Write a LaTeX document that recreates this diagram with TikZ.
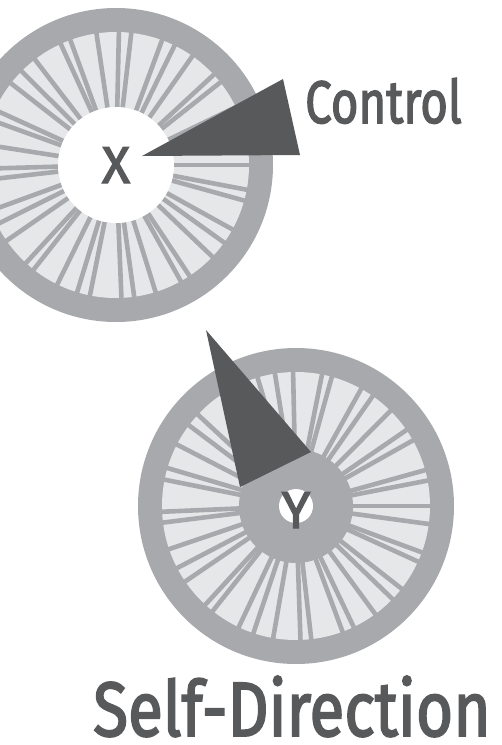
\documentclass[tikz,border=0pt]{standalone}
\usepackage{fontspec}
\newfontfamily\labelfont{Fira Sans}[FakeBold=2.5]
\usetikzlibrary{calc}
\definecolor{ringgray}{HTML}{A7A9AC}
\definecolor{hubfill}{HTML}{E6E7E8}
\definecolor{needledark}{HTML}{58595B}

\tikzset{
  spoke/.style={draw=ringgray, line width=4.6pt},
  needle/.style={fill=needledark},
  wordlabel/.style={text=needledark, inner sep=0pt}
}

\begin{document}
\begin{tikzpicture}[x=1pt, y=-1pt]
  \useasboundingbox (0,0) rectangle (502,745);
  \clip (0,0) rectangle (502,745);
  \def\Rout{157}
  \def\Rin{133}
  \def\Rhub{58}
  \coordinate (C1) at (116,165);
  \coordinate (C2) at (296,506);

  % Upper wheel
  \fill[ringgray] (C1) circle (\Rout);
  \fill[hubfill] (C1) circle (\Rin);
  \foreach \k in {0,...,39}{
    \pgfmathsetmacro\a{360/40*\k + 2.5*sin(\k*137)}
    \draw[spoke] ($(C1)+(\a:\Rhub)$) -- ($(C1)+(\a:\Rin+1)$);
  }
  \fill[white] (C1) circle (\Rhub);
  \node[wordlabel, anchor=base, font=\labelfont\fontsize{52}{52}\selectfont] (X) at (116,183) {X};

  % Upper needle
  \coordinate (N1a) at (142,156);
  \coordinate (N1b) at (283,79);
  \coordinate (N1c) at (300,155);
  \fill[needle] (N1a) -- (N1b) -- (N1c) -- cycle;
  \node[wordlabel, anchor=base west, font=\labelfont\fontsize{60}{60}\selectfont] (control) at (305,123)
    {\scalebox{0.79}[1]{Control}};

  % Lower wheel
  \fill[ringgray] (C2) circle (\Rout+1);
  \fill[hubfill] (C2) circle (\Rin+1);
  \foreach \k in {0,...,39}{
    \pgfmathsetmacro\a{360/40*\k + 2.5*sin(\k*211)}
    \draw[spoke] ($(C2)+(\a:\Rhub-2)$) -- ($(C2)+(\a:\Rin+2)$);
  }
  \fill[ringgray] (C2) circle (\Rhub-1);
  \fill[white] (296,506) circle (17);
  \node[wordlabel, anchor=base, font=\labelfont\fontsize{52}{52}\selectfont] (Y) at (296,528) {Y};

  % Lower needle
  \coordinate (N2a) at (206,330);
  \coordinate (N2b) at (311,452);
  \coordinate (N2c) at (240,487);
  \fill[needle] (N2a) -- (N2b) -- (N2c) -- cycle;

  % Title
  \node[wordlabel, anchor=base west, font=\labelfont\fontsize{77}{77}\selectfont] (title) at (93,736)
    {\scalebox{0.83}[1]{Self-Direction}};
\end{tikzpicture}
\end{document}
